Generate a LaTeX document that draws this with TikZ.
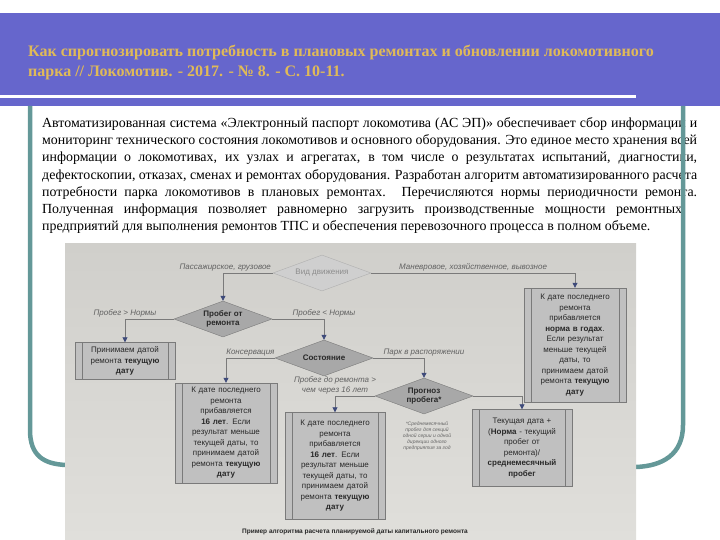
\documentclass[tikz,border=0pt]{standalone}
\usepackage{fontspec}
\setmainfont{Liberation Serif}
\setsansfont{Liberation Sans}
\usetikzlibrary{shapes,arrows.meta,calc}

\definecolor{slideblue}{RGB}{102,102,204}
\definecolor{titlegold}{RGB}{224,186,88}
\definecolor{frameteal}{RGB}{100,152,152}
\definecolor{phototop}{RGB}{208,207,203}
\definecolor{photobottom}{RGB}{224,223,219}
\definecolor{boxgray}{RGB}{192,192,192}
\definecolor{diagray}{RGB}{168,168,168}
\definecolor{linegray}{RGB}{122,122,122}
\definecolor{tipblue}{RGB}{62,74,122}
\definecolor{inkgray}{RGB}{40,40,40}

\tikzstyle{decision}=[diamond,aspect=2.7,inner sep=0pt,minimum width=98pt,minimum height=36pt,draw=linegray,fill=diagray,text=inkgray,align=center,font=\sffamily\bfseries\fontsize{8}{9.5}\selectfont]
\tikzstyle{process}=[rectangle,draw=linegray,fill=boxgray,text=inkgray,inner sep=0pt,align=center,text width=86pt,font=\sffamily\fontsize{8}{10.5}\selectfont,
  path picture={\draw[linegray] ([xshift=7pt]path picture bounding box.north west) -- ([xshift=7pt]path picture bounding box.south west)
    ([xshift=-7pt]path picture bounding box.north east) -- ([xshift=-7pt]path picture bounding box.south east);}]
\tikzstyle{flow}=[draw=linegray,line width=0.8pt,-{Triangle[length=5pt,width=5pt,color=tipblue]}]
\tikzstyle{branch}=[inner sep=1.5pt,text=black!62,align=center,font=\sffamily\itshape\fontsize{8}{10}\selectfont]
\tikzstyle{note}=[inner sep=0pt,text=black!60,align=center,font=\sffamily\itshape\fontsize{5}{6}\selectfont]

\begin{document}
\begin{tikzpicture}[x=1pt,y=-1pt]
  \useasboundingbox (0,0) rectangle (720,540);

  % slide header
  \fill[slideblue] (0,13) rectangle (720,106);
  \fill[white] (0,95.5) rectangle (636,98.5);
  \node[anchor=north west,inner sep=0pt,align=left,text=titlegold,font=\bfseries\fontsize{16}{20}\selectfont] (title) at (28,45)
    {Как спрогнозировать потребность в плановых ремонтах и обновлении локомотивного\\парка // Локомотив. - 2017. - № 8. - С. 10-11.};

  % abstract
  \node[anchor=north west,inner sep=0pt,align=left,font=\fontsize{13.9}{17.3}\selectfont] (abstract) at (42,117) {%
    \makebox[655pt][s]{Автоматизированная система «Электронный паспорт локомотива (АС ЭП)» обеспечивает сбор информации и}\\
    \makebox[655pt][s]{мониторинг технического состояния локомотивов и основного оборудования. Это единое место хранения всей}\\
    \makebox[655pt][s]{информации о локомотивах, их узлах и агрегатах, в том числе о результатах испытаний, диагностики,}\\
    \makebox[655pt][s]{дефектоскопии, отказах, сменах и ремонтах оборудования. Разработан алгоритм автоматизированного расчета}\\
    \makebox[655pt][s]{потребности парка локомотивов в плановых ремонтах. Перечисляются нормы периодичности ремонта.}\\
    \makebox[640pt][s]{Полученная информация позволяет равномерно загрузить производственные мощности ремонтных}\\
    предприятий для выполнения ремонтов ТПС и обеспечения перевозочного процесса в полном объеме.};

  % frame
  \draw[frameteal,line width=4.5pt] (30,106) -- (30,430) .. controls (30,456) and (44,464) .. (66,465);
  \draw[frameteal,line width=4.5pt] (683,106) -- (683,425) .. controls (683,455) and (662,466) .. (636,467);

  % scanned scheme
  \shade[top color=phototop,bottom color=photobottom] (65,243) rectangle (636,540);

  \node[decision,fill=diagray!55,draw=linegray!60,text=black!45,font=\sffamily\fontsize{8}{9.5}\selectfont] (vid) at (322,273) {Вид движения};
  \foreach \name/\x/\y/\label in {probeg/223/319/{Пробег от\\ремонта}, sost/324/358/{Состояние}, prognoz/424/396/{Прогноз\\пробега*}}
    \node[decision] (\name) at (\x,\y) {\label};

  \foreach \name/\x/\y/\w/\h/\label in {
      prinimaem/125/361/100/37/{Принимаем датой\\ремонта \textbf{текущую}\\\textbf{дату}},
      left16/226/433/102/100/{К дате последнего\\ремонта\\прибавляется\\\textbf{16 лет}. Если\\результат меньше\\текущей даты, то\\принимаем датой\\ремонта \textbf{текущую}\\\textbf{дату}},
      mid16/335/466/100/107/{К дате последнего\\ремонта\\прибавляется\\\textbf{16 лет}. Если\\результат меньше\\текущей даты, то\\принимаем датой\\ремонта \textbf{текущую}\\\textbf{дату}},
      normagod/575/345/102/114/{К дате последнего\\ремонта\\прибавляется\\\textbf{норма в годах}.\\Если результат\\меньше текущей\\даты, то\\принимаем датой\\ремонта \textbf{текущую}\\\textbf{дату}},
      tekush/522/448/100/77/{Текущая дата +\\(\textbf{Норма} - текущий\\пробег от\\ремонта)/\\\textbf{среднемесячный}\\\textbf{пробег}}}
    \node[process,minimum width=\w pt,minimum height=\h pt] (\name) at (\x,\y) {\label};

  \draw[flow] (vid.west) -| node[branch,pos=0,above left] {Пассажирское, грузовое} (probeg.north);
  \draw[flow] (vid.east) -| node[branch,pos=0.25,above] {Маневровое, хозяйственное, вывозное} (normagod.north);
  \draw[flow] (probeg.west) -| node[branch,pos=0.5,above] {Пробег > Нормы} (prinimaem.north);
  \draw[flow] (probeg.east) -| node[branch,pos=0.5,above] {Пробег < Нормы} (sost.north);
  \draw[flow] (sost.west) -| node[branch,pos=0.25,above] {Консервация} (left16.north);
  \draw[flow] (sost.east) -| node[branch,pos=0.5,above] {Парк в распоряжении} (prognoz.north);
  \draw[flow] (prognoz.west) -| node[branch,pos=0.5,above] {Пробег до ремонта >\\чем через 16 лет} (mid16.north);
  \draw[flow] (prognoz.east) -| (tekush.north);

  \node[note] (sredn) at (427,436) {*Среднемесячный\\пробег для секций\\одной серии и одной\\дирекции одного\\предприятия за год};
  \node[inner sep=0pt,text=inkgray,font=\sffamily\bfseries\fontsize{6.5}{8}\selectfont] (podpis) at (355,532)
    {Пример алгоритма расчета планируемой даты капитального ремонта};
\end{tikzpicture}
\end{document}
